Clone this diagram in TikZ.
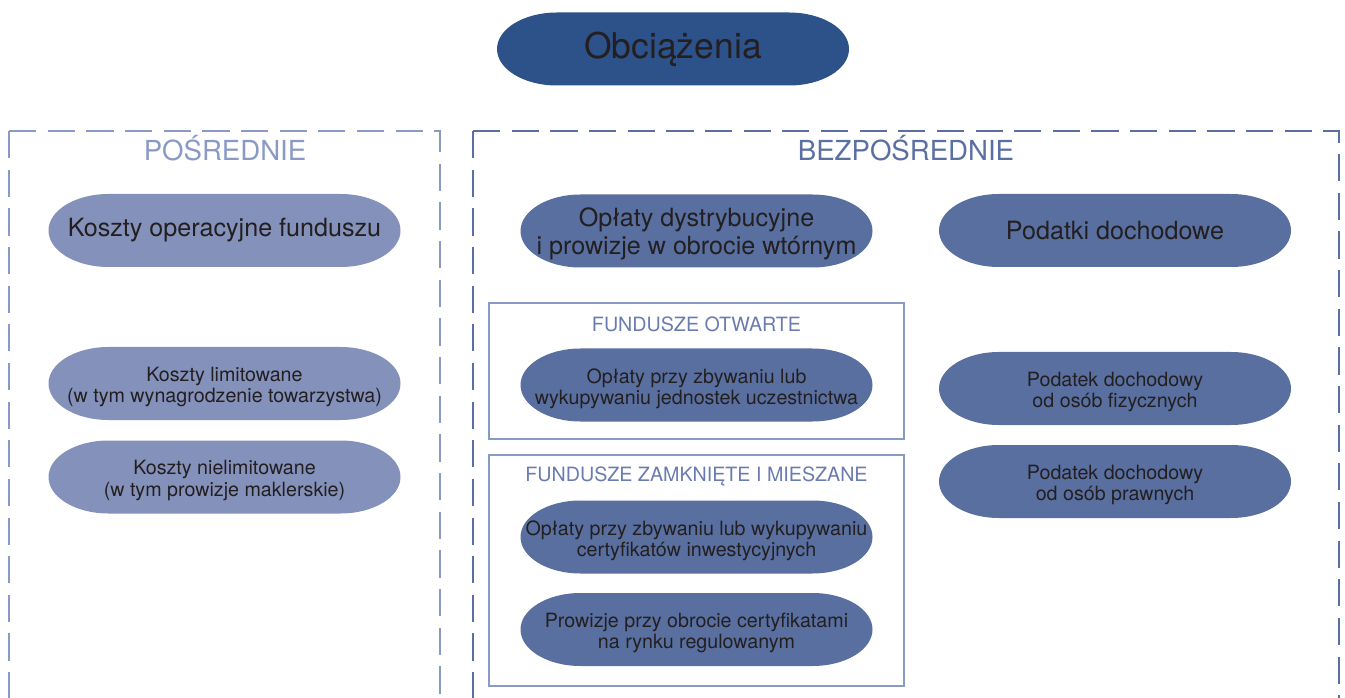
\documentclass[tikz,border=0pt]{standalone}
\usepackage{fontspec}
\setmainfont{TeX Gyre Heros}

\definecolor{ciemny}{HTML}{2D5189}
\definecolor{jasny}{HTML}{8491BA}
\definecolor{sredni}{HTML}{586FA0}
\definecolor{ramkajasna}{HTML}{8A9AC6}
\definecolor{ramkaciemna}{HTML}{5B6FA3}
\definecolor{naglowek}{HTML}{6A7BB0}
\definecolor{tekst}{HTML}{231F20}

\tikzset{
  pilltitle/.style={text=tekst, align=center, font=\fontsize{20.2}{23}\selectfont},
  pillbig/.style={text=tekst, align=center, font=\fontsize{14.3}{16}\selectfont},
  pillsmall/.style={text=tekst, align=center, yshift=-2pt, font=\fontsize{11.2}{12.2}\selectfont},
  sekcja/.style={font=\fontsize{15.7}{18}\selectfont},
  fundusz/.style={text=naglowek, font=\fontsize{11.2}{13}\selectfont},
  przerywana/.style={line width=1.4pt, dash pattern=on 15.5pt off 6.5pt}
}

% pill: [style]{name}{x,y}{fill}{text}
\newcommand{\pill}[5][pillsmall]{%
  \fill[#4, shift={(#3)}] (-116,36.5) -- (116,36.5)
    arc[start angle=90, end angle=-90, x radius=60, y radius=36.5]
    -- (-116,-36.5)
    arc[start angle=270, end angle=90, x radius=60, y radius=36.5] -- cycle;
  \node[#1] (#2) at (#3) {#5};%
}

\begin{document}
\begin{tikzpicture}[x=0.02cm, y=0.02cm]

    \useasboundingbox (0,0) rectangle (1345,697);

    % naglowek
    \pill[pilltitle]{obciazenia}{673,648}{ciemny}{Obciążenia}

    % ramki przerywane
    \draw[ramkajasna, przerywana] (9,566) -- (9,-10);
    \draw[ramkajasna, przerywana] (9,566) -- (440,566) -- (440,-10);
    \draw[ramkaciemna, przerywana] (473,566) -- (473,-10);
    \draw[ramkaciemna, przerywana] (473,566) -- (1339,566) -- (1339,-10);

    \node[sekcja, text=ramkajasna] (posrednie) at (225,549) {POŚREDNIE};
    \node[sekcja, text=ramkaciemna] (bezposrednie) at (906,549) {BEZPOŚREDNIE};

    % koszty posrednie
    \pill[pillbig]{operacyjne}{224.5,466.5}{jasny}{Koszty operacyjne funduszu}
    \pill{limitowane}{224.5,313.5}{jasny}{Koszty limitowane\\(w tym wynagrodzenie towarzystwa)}
    \pill{nielimitowane}{224.5,220}{jasny}{Koszty nielimitowane\\(w tym prowizje maklerskie)}

    % oplaty dystrybucyjne
    \pill[pillbig, yshift=-1.7pt]{dystrybucyjne}{696.5,466}{sredni}{Opłaty dystrybucyjne\\i prowizje w obrocie wtórnym}

    \draw[ramkajasna, line width=0.8pt] (489,258) rectangle (904,394); % otwarte
    \node[fundusz] (otwarte) at (696.5,373) {FUNDUSZE OTWARTE};
    \pill{jednostki}{696.5,312}{sredni}{Opłaty przy zbywaniu lub\\wykupywaniu jednostek uczestnictwa}

    \draw[ramkajasna, line width=0.8pt] (489,11) rectangle (904,242); % zamkniete
    \node[fundusz] (zamkniete) at (696.5,221) {FUNDUSZE ZAMKNIĘTE I MIESZANE};
    \pill{certyfikaty}{696.5,160}{sredni}{Opłaty przy zbywaniu lub wykupywaniu\\certyfikatów inwestycyjnych}
    \pill{prowizje}{696.5,67.5}{sredni}{Prowizje przy obrocie certyfikatami\\na rynku regulowanym}

    % podatki
    \pill[pillbig]{podatki}{1115,466.5}{sredni}{Podatki dochodowe}
    \pill{fizyczne}{1115,308.5}{sredni}{Podatek dochodowy\\od osób fizycznych}
    \pill{prawne}{1115,215.5}{sredni}{Podatek dochodowy\\od osób prawnych}

\end{tikzpicture}
\end{document}
